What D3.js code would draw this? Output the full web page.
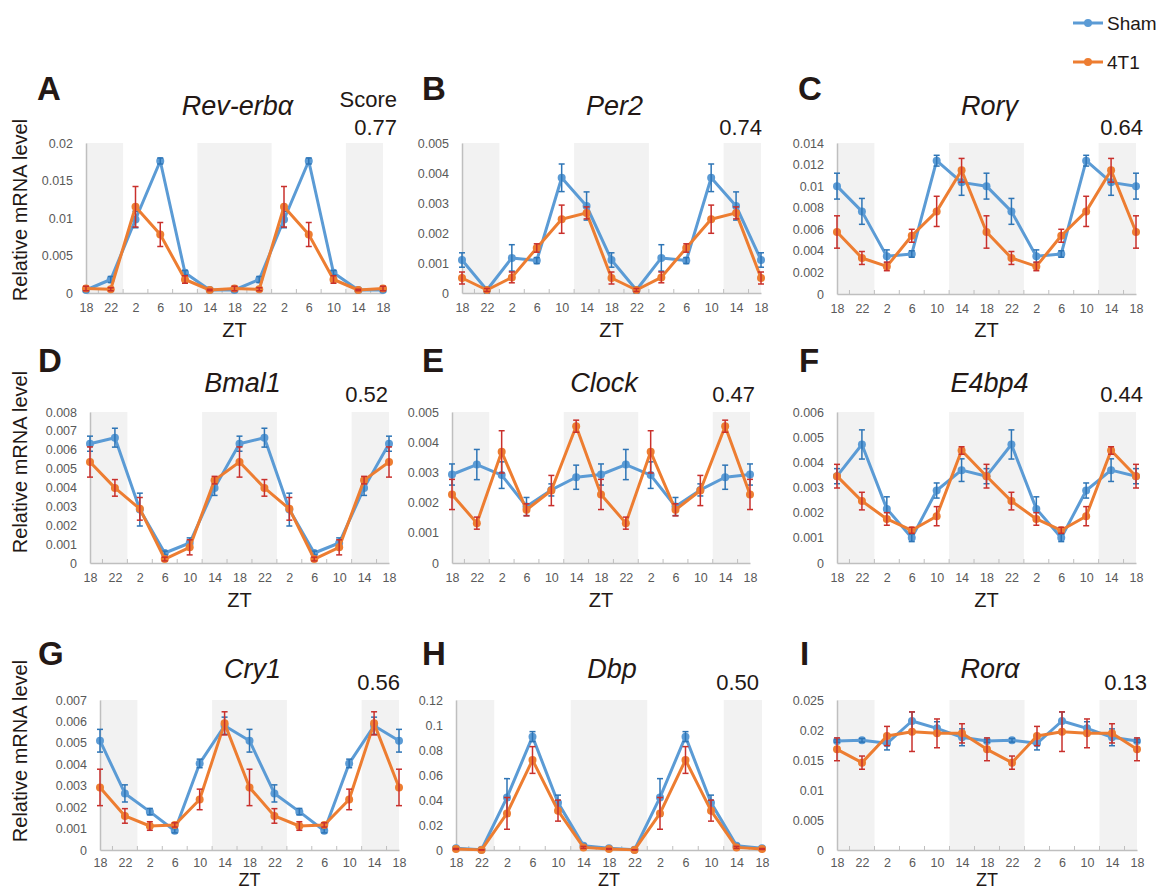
<!DOCTYPE html>
<html>
<head>
<meta charset="utf-8">
<script src="https://cdn.jsdelivr.net/npm/d3@7"></script>
<style>
  body { margin: 0; background: #fff; }
  svg { display: block; font-family: Arial, "Liberation Sans", sans-serif; }
</style>
</head>
<body>
<svg id="chart" width="1160" height="890"></svg>
<script>
// sampling hours (double plotted, 18 -> next day's 18 = 66)
const hours = [18, 22, 26, 30, 34, 38, 42, 46, 50, 54, 58, 62, 66];
const ztLabels = ["18", "22", "2", "6", "10", "14", "18", "22", "2", "6", "10", "14", "18"];
// dark phase shading, in the same hour units
const darkSpans = [[18, 24], [36, 48], [60, 66]];

const letters = ["A", "B", "C", "D", "E", "F", "G", "H", "I"];
const genes = ["Rev-erbα", "Per2", "Rorγ", "Bmal1", "Clock", "E4bp4", "Cry1", "Dbp", "Rorα"];
const scores = ["0.77", "0.74", "0.64", "0.52", "0.47", "0.44", "0.56", "0.50", "0.13"];
const yMax = [0.02, 0.005, 0.014, 0.008, 0.005, 0.006, 0.007, 0.12, 0.025];
const yStep = [0.005, 0.001, 0.002, 0.001, 0.001, 0.001, 0.001, 0.02, 0.005];

// Sham mean / sem
const shamMean = [
  [0.0004, 0.0018, 0.0098, 0.0176, 0.0027, 0.0004, 0.0004, 0.0018, 0.0098, 0.0176, 0.0027, 0.0004, 0.0004],
  [0.0011, 0.0001, 0.00117, 0.00108, 0.00384, 0.0029, 0.0011, 0.0001, 0.00117, 0.00108, 0.00384, 0.0029, 0.0011],
  [0.0100, 0.00766, 0.00349, 0.00371, 0.01236, 0.01035, 0.0100, 0.00766, 0.00349, 0.00371, 0.01236, 0.01035, 0.0100],
  [0.00632, 0.00664, 0.00283, 0.00053, 0.00106, 0.00398, 0.00632, 0.00664, 0.00283, 0.00053, 0.00106, 0.00398, 0.00632],
  [0.00293, 0.00326, 0.00291, 0.00187, 0.00242, 0.00284, 0.00293, 0.00326, 0.00291, 0.00187, 0.00242, 0.00284, 0.00293],
  [0.00345, 0.00471, 0.00215, 0.0010, 0.00288, 0.00369, 0.00345, 0.00471, 0.00215, 0.0010, 0.00288, 0.00369, 0.00345],
  [0.0051, 0.00264, 0.00179, 0.0009, 0.00404, 0.0058, 0.0051, 0.00264, 0.00179, 0.0009, 0.00404, 0.0058, 0.0051],
  [0.0015, 0.0002, 0.0421, 0.0907, 0.0379, 0.0035, 0.0015, 0.0002, 0.0421, 0.0907, 0.0379, 0.0035, 0.0015],
  [0.01817, 0.01828, 0.01778, 0.0215, 0.02028, 0.01878, 0.01817, 0.01828, 0.01778, 0.0215, 0.02028, 0.01878, 0.01817]
];
const shamErr = [
  [0.0002, 0.0004, 0.0011, 0.0004, 0.0003, 0.0001, 0.0002, 0.0004, 0.0011, 0.0004, 0.0003, 0.0001, 0.0002],
  [0.00024, 0.0001, 0.00044, 0.0001, 0.00046, 0.00047, 0.00024, 0.0001, 0.00044, 0.0001, 0.00046, 0.00047, 0.00024],
  [0.0012, 0.0012, 0.0006, 0.0003, 0.0005, 0.0012, 0.0012, 0.0012, 0.0006, 0.0003, 0.0005, 0.0012, 0.0012],
  [0.0004, 0.0005, 0.00087, 0.0001, 0.00027, 0.0004, 0.0004, 0.0005, 0.00087, 0.0001, 0.00027, 0.0004, 0.0004],
  [0.00035, 0.0005, 0.00044, 0.0003, 0.0002, 0.0004, 0.00035, 0.0005, 0.00044, 0.0003, 0.0002, 0.0004, 0.00035],
  [0.0003, 0.00058, 0.00048, 0.00015, 0.0003, 0.00045, 0.0003, 0.00058, 0.00048, 0.00015, 0.0003, 0.00045, 0.0003],
  [0.00053, 0.0004, 0.00015, 0.0001, 0.0002, 0.0004, 0.00053, 0.0004, 0.00015, 0.0001, 0.0002, 0.0004, 0.00053],
  [0.0005, 0.0002, 0.015, 0.004, 0.006, 0.001, 0.0005, 0.0002, 0.015, 0.004, 0.006, 0.001, 0.0005],
  [0.0002, 0.0003, 0.0011, 0.0015, 0.0011, 0.0014, 0.0002, 0.0003, 0.0011, 0.0015, 0.0011, 0.0014, 0.0002]
];
// 4T1 mean / sem
const t1Mean = [
  [0.0006, 0.0005, 0.0115, 0.0078, 0.0018, 0.0004, 0.0006, 0.0005, 0.0115, 0.0078, 0.0018, 0.0004, 0.0006],
  [0.0005, 0.0001, 0.00052, 0.0015, 0.00246, 0.00267, 0.0005, 0.0001, 0.00052, 0.0015, 0.00246, 0.00267, 0.0005],
  [0.00575, 0.00334, 0.00256, 0.0054, 0.00766, 0.01147, 0.00575, 0.00334, 0.00256, 0.0054, 0.00766, 0.01147, 0.00575],
  [0.00535, 0.00398, 0.00287, 0.00021, 0.00083, 0.00439, 0.00535, 0.00398, 0.00287, 0.00021, 0.00083, 0.00439, 0.00535],
  [0.00227, 0.00132, 0.00368, 0.00176, 0.0024, 0.00453, 0.00227, 0.00132, 0.00368, 0.00176, 0.0024, 0.00453, 0.00227],
  [0.00345, 0.00246, 0.00175, 0.0013, 0.00186, 0.00447, 0.00345, 0.00246, 0.00175, 0.0013, 0.00186, 0.00447, 0.00345],
  [0.00292, 0.00159, 0.00112, 0.00117, 0.00236, 0.00591, 0.00292, 0.00159, 0.00112, 0.00117, 0.00236, 0.00591, 0.00292],
  [0.0008, 0.0001, 0.0293, 0.072, 0.0315, 0.0021, 0.0008, 0.0001, 0.0293, 0.072, 0.0315, 0.0021, 0.0008],
  [0.01678, 0.01456, 0.019, 0.01972, 0.01944, 0.01944, 0.01678, 0.01456, 0.019, 0.01972, 0.01944, 0.01944, 0.01678]
];
const t1Err = [
  [0.0003, 0.0002, 0.0027, 0.0016, 0.0005, 0.0001, 0.0003, 0.0002, 0.0027, 0.0016, 0.0005, 0.0001, 0.0003],
  [0.0002, 0.00005, 0.00018, 0.00014, 0.00047, 0.0002, 0.0002, 0.00005, 0.00018, 0.00014, 0.00047, 0.0002, 0.0002],
  [0.0015, 0.0006, 0.0004, 0.0006, 0.0014, 0.0011, 0.0015, 0.0006, 0.0004, 0.0006, 0.0014, 0.0011, 0.0015],
  [0.0008, 0.00044, 0.0006, 0.0001, 0.0004, 0.0002, 0.0008, 0.00044, 0.0006, 0.0001, 0.0004, 0.0002, 0.0008],
  [0.0005, 0.0002, 0.0007, 0.0002, 0.0005, 0.0002, 0.0005, 0.0002, 0.0007, 0.0002, 0.0005, 0.0002, 0.0005],
  [0.00047, 0.00035, 0.00025, 0.00012, 0.00038, 0.00015, 0.00047, 0.00035, 0.00025, 0.00012, 0.00038, 0.00015, 0.00047],
  [0.00085, 0.00034, 0.0002, 0.0001, 0.00048, 0.00054, 0.00085, 0.00034, 0.0002, 0.0001, 0.00048, 0.00054, 0.00085],
  [0.0004, 0.0001, 0.0127, 0.0107, 0.0084, 0.0008, 0.0004, 0.0001, 0.0127, 0.0107, 0.0084, 0.0008, 0.0004],
  [0.0019, 0.0011, 0.0016, 0.0033, 0.0024, 0.0016, 0.0019, 0.0011, 0.0016, 0.0033, 0.0024, 0.0016, 0.0019]
];

// colours
const shamColor = "#5b9bd5", shamBarColor = "#2e75b6";
const t1Color = "#ed7d31", t1BarColor = "#c9302c";
const shade = "#f2f2f2", axisColor = "#bfbfbf", tickText = "#595959";

// plot boxes [left, right, top, bottom]
const boxes = [
  [86, 383, 143, 293], [462, 761, 143, 293], [837, 1136, 143, 294],
  [90, 389, 412, 563], [452, 750, 412, 563], [837, 1136, 412, 563],
  [100, 399, 700, 850], [456, 762, 700, 850], [837, 1137, 700, 850]
];
// per row: letter / title / score baselines, x tick padding, ZT baseline + size, y label centre
const rows = [
  {letter: 100, title: 115, score: 135, pad: 10, zt: 337, ztSize: 20, ylab: 210},
  {letter: 372, title: 392, score: 402, pad: 10, zt: 607, ztSize: 20, ylab: 462},
  {letter: 665, title: 678, score: 690, pad: 8, zt: 886, ztSize: 18, ylab: 751}
];
const letterX = [37, 422, 798, 38, 422, 799, 38, 422, 800];
const scoreRight = [397, 762, 1143, 388, 755, 1143, 400, 759, 1147];

const svg = d3.select("#chart");

function fmt(v) {
  return v === 0 ? "0" : String(+v.toFixed(4));
}

function drawPanel(i) {
  const [x0, x1, y0, y1] = boxes[i];
  const row = rows[Math.floor(i / 3)];
  const g = svg.append("g").attr("class", "panel");

  const x = d3.scaleLinear().domain([18, 66]).range([x0, x1]);
  const y = d3.scaleLinear().domain([0, yMax[i]]).range([y1, y0]);

  // dark phase shading
  g.selectAll("rect.dark").data(darkSpans).enter().append("rect")
    .attr("class", "dark")
    .attr("x", d => x(d[0])).attr("width", d => x(d[1]) - x(d[0]))
    .attr("y", y0).attr("height", y1 - y0)
    .attr("fill", shade);

  // y axis
  const nt = Math.round(yMax[i] / yStep[i]);
  const yticks = d3.range(0, nt + 1).map(k => +(k * yStep[i]).toFixed(5));
  const yAxis = g.append("g").attr("transform", `translate(${x0},0)`)
    .call(d3.axisLeft(y).tickValues(yticks).tickFormat(fmt).tickSize(0).tickPadding(13));
  yAxis.select(".domain").attr("stroke", axisColor).attr("stroke-width", 1.5);
  yAxis.selectAll("text").attr("fill", tickText).attr("font-size", 12.5)
    .attr("font-family", "Arial, 'Liberation Sans', sans-serif");

  // x axis: labels at sampling points, small inner ticks every 2 h
  const xAxis = g.append("g").attr("transform", `translate(0,${y1})`)
    .call(d3.axisBottom(x).tickValues(hours).tickFormat((d, k) => ztLabels[k]).tickSize(0).tickPadding(row.pad));
  xAxis.select(".domain").attr("stroke", axisColor).attr("stroke-width", 1.5);
  xAxis.selectAll("text").attr("fill", tickText).attr("font-size", 12.5)
    .attr("font-family", "Arial, 'Liberation Sans', sans-serif");
  g.append("g").selectAll("line").data(d3.range(20, 66, 4)).enter().append("line")
    .attr("x1", d => x(d)).attr("x2", d => x(d))
    .attr("y1", y1).attr("y2", y1 - 4)
    .attr("stroke", axisColor).attr("stroke-width", 1);

  // series
  const series = [
    {mean: shamMean[i], err: shamErr[i], color: shamColor, bar: shamBarColor},
    {mean: t1Mean[i], err: t1Err[i], color: t1Color, bar: t1BarColor}
  ];
  const line = d3.line().x((d, k) => x(hours[k])).y(d => y(d));
  series.forEach(s => {
    const sg = g.append("g");
    const pts = s.mean.map((m, k) => ({h: hours[k], m: m, e: s.err[k]}));
    sg.append("path").attr("d", line(s.mean))
      .attr("fill", "none").attr("stroke", s.color).attr("stroke-width", 3)
      .attr("stroke-linejoin", "round");
    sg.selectAll("circle").data(pts).enter().append("circle")
      .attr("cx", d => x(d.h)).attr("cy", d => y(d.m)).attr("r", 4)
      .attr("fill", s.color);
    const eb = sg.selectAll("g.err").data(pts).enter().append("g").attr("class", "err")
      .attr("stroke", s.bar).attr("stroke-width", 1.5);
    eb.append("line")
      .attr("x1", d => x(d.h)).attr("x2", d => x(d.h))
      .attr("y1", d => y(Math.max(0, d.m - d.e))).attr("y2", d => y(d.m + d.e));
    eb.append("line")
      .attr("x1", d => x(d.h) - 3).attr("x2", d => x(d.h) + 3)
      .attr("y1", d => y(d.m + d.e)).attr("y2", d => y(d.m + d.e));
    eb.append("line")
      .attr("x1", d => x(d.h) - 3).attr("x2", d => x(d.h) + 3)
      .attr("y1", d => y(Math.max(0, d.m - d.e))).attr("y2", d => y(Math.max(0, d.m - d.e)));
  });

  // texts
  g.append("text").text(letters[i])
    .attr("x", letterX[i]).attr("y", row.letter)
    .attr("font-size", 33).attr("font-weight", "bold").attr("fill", "#231815");
  g.append("text").text(genes[i])
    .attr("x", (x0 + x1) / 2 + 3).attr("y", row.title)
    .attr("text-anchor", "middle").attr("font-size", 27).attr("font-style", "italic")
    .attr("fill", "#231815");
  g.append("text").text(scores[i])
    .attr("x", scoreRight[i]).attr("y", row.score)
    .attr("text-anchor", "end").attr("font-size", 22).attr("fill", "#231815");
  if (i === 0) {
    g.append("text").text("Score")
      .attr("x", scoreRight[i]).attr("y", 107)
      .attr("text-anchor", "end").attr("font-size", 22).attr("fill", "#231815");
  }
  g.append("text").text("ZT")
    .attr("x", (x0 + x1) / 2).attr("y", row.zt)
    .attr("text-anchor", "middle").attr("font-size", row.ztSize).attr("fill", "#231815");
  if (i % 3 === 0) {
    g.append("text").text("Relative mRNA level")
      .attr("transform", `translate(27,${row.ylab}) rotate(-90)`)
      .attr("text-anchor", "middle").attr("font-size", 20).attr("fill", "#231815");
  }
}

for (let i = 0; i < 9; i++) drawPanel(i);

// legend
const legendItems = [
  {name: "Sham", color: shamColor, y: 23},
  {name: "4T1", color: t1Color, y: 62}
];
const lg = svg.append("g");
legendItems.forEach(d => {
  lg.append("line").attr("x1", 1073).attr("x2", 1103).attr("y1", d.y).attr("y2", d.y)
    .attr("stroke", d.color).attr("stroke-width", 3);
  lg.append("circle").attr("cx", 1088).attr("cy", d.y).attr("r", 4).attr("fill", d.color);
  lg.append("text").text(d.name).attr("x", 1107).attr("y", d.y + 7)
    .attr("font-size", 19).attr("fill", "#231815");
});
</script>
</body>
</html>
